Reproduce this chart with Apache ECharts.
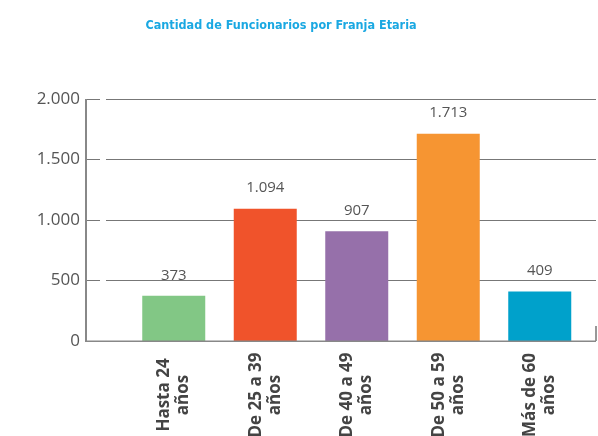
<!DOCTYPE html>
<html>
<head>
<meta charset="utf-8">
<script src="https://cdn.jsdelivr.net/npm/echarts@6/dist/echarts.min.js"></script>
<style>
  html, body { margin: 0; padding: 0; background: #fff; }
  #chart { width: 598px; height: 436px; }
</style>
</head>
<body>
<div id="chart"></div>
<script>
// datos
const titulo = 'Cantidad de Funcionarios por Franja Etaria';
const categorias = [['Hasta 24', 'años'], ['De 25 a 39', 'años'], ['De 40 a 49', 'años'], ['De 50 a 59', 'años'], ['Más de 60', 'años']];
const funcionarios = [373, 1094, 907, 1713, 409];
const colores = ['#82c785', '#f0532b', '#9670aa', '#f69532', '#00a1cb'];
const yMax = 2000;
const yPaso = 500;

// separador de miles con punto
function miles (v) {
	return String(v).replace(/\B(?=(\d{3})+(?!\d))/g, '.');
}

const chart = echarts.init(document.getElementById('chart'));

const opt = {
	animation: false,
	title: {
		text: titulo,
		left: 276,
		top: 14,
		textAlign: 'center',
		textStyle: {
			fontFamily: 'DejaVu Sans Condensed, Roboto',
			fontWeight: 'bold',
			fontSize: 12.5,
			color: '#1aa8e2'
		}
	},
	grid: [
		{ left: 106, right: 2, top: 99, bottom: 95, outerBoundsMode: 'none' },	// rejilla
		{ left: 128, width: 457.5, top: 99, bottom: 95, outerBoundsMode: 'none' },	// barras
		{ left: 86, right: 2, top: 99, bottom: 95, outerBoundsMode: 'none' }	// ticks y etiquetas
	],
	xAxis: [
		{ gridIndex: 0, type: 'value', show: false },
		{
			gridIndex: 1,
			type: 'category',
			data: categorias.map(c => c.join('\n')),
			axisLine: { show: false },
			axisTick: { show: false },
			axisLabel: {
				rotate: 90,
				align: 'center',
				verticalAlign: 'middle',
				margin: 54,
				interval: 0,
				fontFamily: 'Open Sans',
				fontWeight: 'bold',
				fontSize: 17,
				lineHeight: 19,
				color: '#444'
			}
		},
		{
			gridIndex: 2,
			type: 'value',
			min: 0,
			max: 1,
			interval: 1,
			axisLine: { show: false },
			axisTick: { show: true, inside: true, length: 15, lineStyle: { color: '#777', width: 1.5 } },
			axisLabel: { show: false },
			splitLine: { show: false }
		}
	],
	yAxis: [
		{
			gridIndex: 0,
			type: 'value',
			min: 0,
			max: yMax,
			interval: yPaso,
			axisLine: { show: false },
			axisTick: { show: false },
			axisLabel: { show: false },
			splitLine: { show: true, lineStyle: { color: '#777', width: 1 } }
		},
		{ gridIndex: 1, type: 'value', min: 0, max: yMax, show: false },
		{
			gridIndex: 2,
			type: 'value',
			min: 0,
			max: yMax,
			interval: yPaso,
			axisLine: { show: false },
			axisTick: { show: true, inside: true, length: 14, lineStyle: { color: '#777' } },
			axisLabel: {
				margin: 6,
				fontFamily: 'Open Sans',
				fontSize: 17,
				color: '#555',
				formatter: miles
			},
			splitLine: { show: false }
		}
	],
	series: [{
		type: 'bar',
		xAxisIndex: 1,
		yAxisIndex: 1,
		barWidth: 63,
		data: funcionarios.map((v, i) => ({ value: v, itemStyle: { color: colores[i] } })),
		label: {
			show: true,
			position: 'top',
			distance: 13,
			fontFamily: 'Open Sans',
			fontSize: 15,
			color: '#555',
			formatter: p => miles(p.value)
		}
	}]
};

chart.setOption(opt);

// lineas de eje como rectangulos finos sobre el borde de la rejilla 2
const rect = chart.getModel().getComponent('grid', 2).coordinateSystem.getRect();
const ejeColor = '#888';
chart.setOption({
	graphic: [
		{ type: 'rect', shape: { x: rect.x - 1, y: rect.y, width: 2, height: rect.height + 1 }, style: { fill: ejeColor }, z: 100 },
		{ type: 'rect', shape: { x: rect.x - 1, y: rect.y + rect.height - 0.5, width: rect.width + 1, height: 1.5 }, style: { fill: ejeColor }, z: 100 }
	]
});
</script>
</body>
</html>
